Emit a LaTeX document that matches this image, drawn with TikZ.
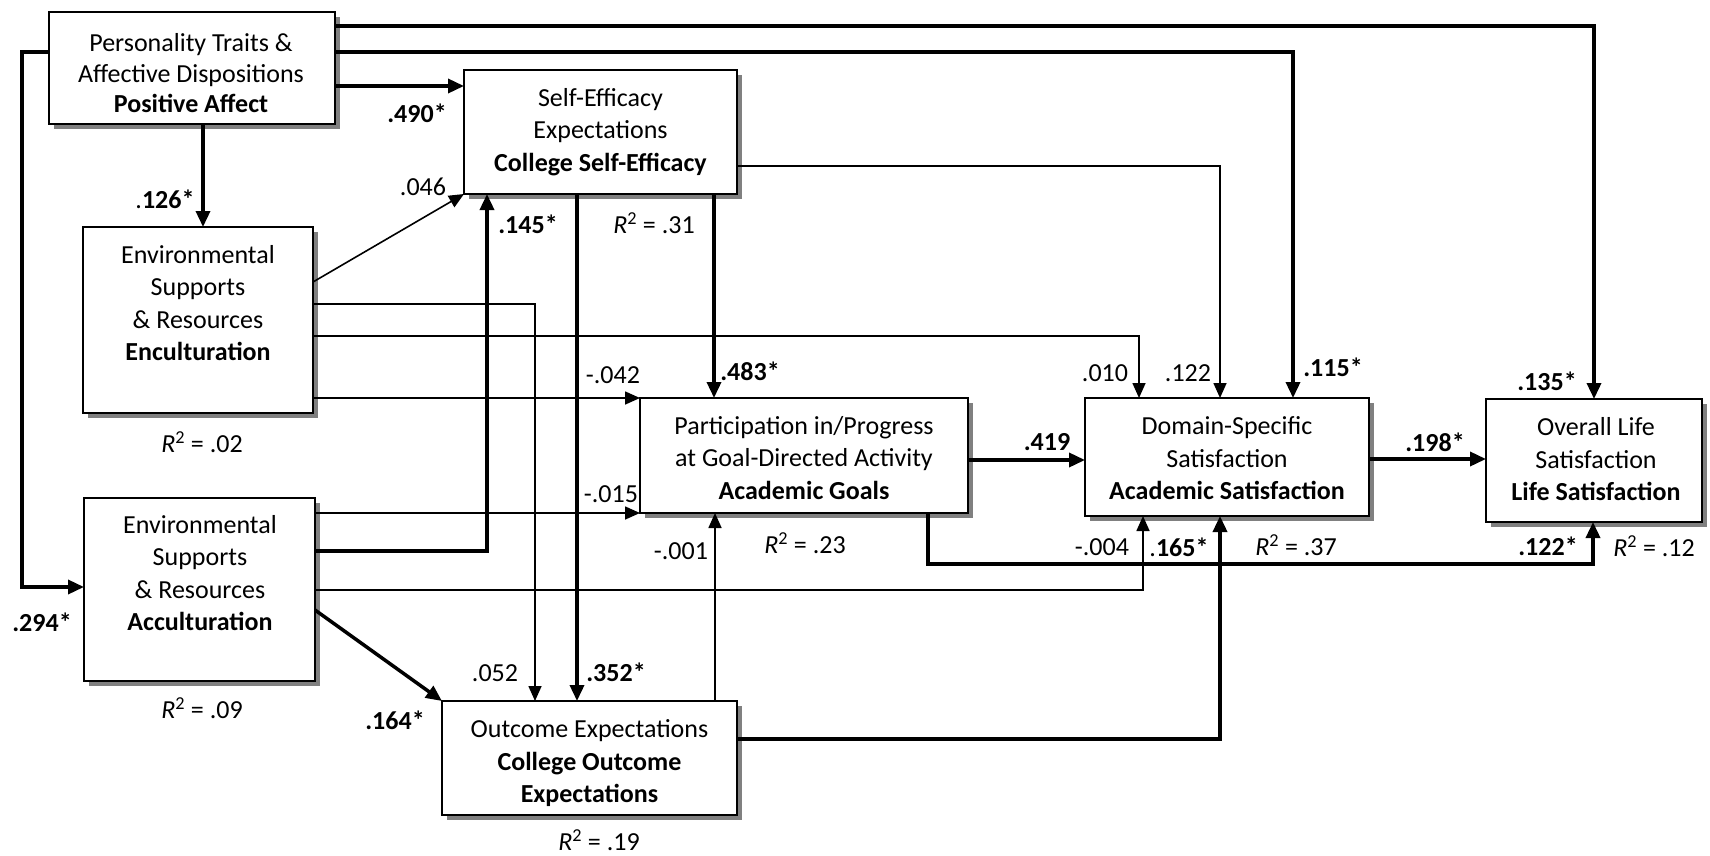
\documentclass[tikz,border=0pt]{standalone}
\usepackage{fontspec}
\setmainfont{Carlito}
\usetikzlibrary{arrows.meta,shadows}
\begin{document}
\begin{tikzpicture}[x=1pt,y=-1pt,
  box/.style={draw, line width=2pt, fill=white, inner sep=0pt, outer sep=0pt,
    general shadow={fill=black!50, shadow xshift=5pt, shadow yshift=-5pt}},
  txt/.style={align=center, inner sep=0pt, font=\fontsize{26}{32.5}\selectfont},
  lab/.style={inner sep=0pt, font=\fontsize{26}{30}\selectfont},
  labb/.style={inner sep=0pt, font=\fontsize{26}{30}\selectfont\bfseries},
  thk/.style={line width=3.5pt, -{Triangle[length=16pt,width=14pt]}},
  thn/.style={line width=1.6pt, -{Triangle[length=15pt,width=13pt]}}
]
\useasboundingbox (0,0) rectangle (1710,856);

% boxes
\node[box, minimum width=286, minimum height=112] (pa) at (192,68) {};
\node[box, minimum width=273, minimum height=124] (se) at (600.5,132) {};
\node[box, minimum width=230, minimum height=186] (en) at (198,320) {};
\node[box, minimum width=231, minimum height=183] (ac) at (199.5,589.5) {};
\node[box, minimum width=328, minimum height=115] (ag) at (804,455.5) {};
\node[box, minimum width=284, minimum height=118] (as) at (1227,457) {};
\node[box, minimum width=216, minimum height=123] (ls) at (1594,460.5) {};
\node[box, minimum width=295, minimum height=114] (oe) at (589.5,758) {};

% box texts
\node[txt, font=\fontsize{26}{30.5}\selectfont] (patx) at (191,76) {\strut Personality Traits \&\\Affective Dispositions\\\textbf{Positive Affect}\strut};
\node[txt] (setx) at (600.5,132) {\strut Self-Efficacy\\Expectations\\\textbf{College Self-Efficacy}\strut};
\node[txt] (entx) at (198,305.5) {\strut Environmental\\Supports\\\& Resources\\\textbf{Enculturation}\strut};
\node[txt] (actx) at (200,575.5) {\strut Environmental\\Supports\\\& Resources\\\textbf{Acculturation}\strut};
\node[txt] (agtx) at (804,460) {\strut Participation in/Progress\\at Goal-Directed Activity\\\textbf{Academic Goals}\strut};
\node[txt] (astx) at (1227,460.5) {\strut Domain-Specific\\Satisfaction\\\textbf{Academic Satisfaction}\strut};
\node[txt] (lstx) at (1596,461.5) {\strut Overall Life\\Satisfaction\\\textbf{Life Satisfaction}\strut};
\node[txt] (oetx) at (589.5,763.5) {\strut Outcome Expectations\\\textbf{College Outcome}\\\textbf{Expectations}\strut};

% connectors from Positive Affect
\draw[thk] (pa.east |- 0,26) -| (ls.north);
\draw[thk] (pa.east |- 0,52) -| (as.north -| 1293,0);
\draw[thk] (pa.east |- 0,86) -- (se.west |- 0,86);
\draw[thk] (pa.south -| 203,0) -- (en.north -| 203,0);
\draw[thk] (pa.west |- 0,52) -- (22,52) |- (ac.west |- 0,587);

% from Enculturation
\draw[thn] (en.east |- 0,282) -- (se.south west);
\draw[thn] (en.east |- 0,304) -| (oe.north -| 535,0);
\draw[thn] (en.east |- 0,336) -| (as.north -| 1139,0);
\draw[thn] (en.east |- 0,398) -- (ag.north west);

% from Acculturation
\draw[thn] (ac.east |- 0,513) -- (ag.south west);
\draw[thk] (ac.east |- 0,551) -| (se.south -| 487,0);
\draw[thn] (ac.east |- 0,590) -| (as.south -| 1143,0);
\draw[thk] (ac.east |- 0,610) -- (oe.north west);

% from Self-Efficacy
\draw[thk] (se.south -| 714,0) -- (ag.north -| 714,0);
\draw[thk] (se.south -| 577,0) -- (oe.north -| 577,0);
\draw[thn] (se.east |- 0,166) -| (as.north -| 1220,0);

% from Academic Goals
\draw[thk] (ag.east |- 0,460) -- (as.west |- 0,460);
\draw[thk] (ag.south -| 928,0) -- (928,564) -| (ls.south -| 1593,0);

% from Outcome Expectations
\draw[thn] (oe.north -| 715,0) -- (ag.south -| 715,0);
\draw[thk] (oe.east |- 0,739) -| (as.south -| 1220,0);

% from Academic Satisfaction
\draw[thk] (as.east |- 0,459) -- (ls.west |- 0,459);

% path labels
\node[labb] (l135) at (1547,381) {.135*};
\node[labb] (l115) at (1333,367) {.115*};
\node[labb] (l490) at (417,113) {.490*};
\node[lab] (l126) at (165,199) {.\textbf{126*}};
\node[labb] (l294) at (42,622) {.294*};
\node[lab] (l046) at (423,187) {.046};
\node[lab] (l052) at (495,673) {.052};
\node[lab] (l010) at (1105,373) {.010};
\node[lab] (l042) at (613,375) {-.042};
\node[lab] (l015) at (611,494) {-.015};
\node[labb] (l145) at (528,224) {.145*};
\node[lab] (l004) at (1102,547) {-.004};
\node[labb] (l164) at (395,720) {.164*};
\node[labb] (l483) at (750,371) {.483*};
\node[labb] (l352) at (616,672) {.352*};
\node[lab] (l122) at (1188,373) {.122};
\node[labb] (l419) at (1047,442) {.419};
\node[labb] (l122s) at (1548,546) {.122*};
\node[lab] (l001) at (681,551) {-.001};
\node[lab] (l165) at (1179,547) {.\textbf{165*}};
\node[labb] (l198) at (1435,442) {.198*};

% R squared
\node[lab] (r31) at (654,223) {\textit{R}\textsuperscript{2} = .31};
\node[lab] (r02) at (202,442) {\textit{R}\textsuperscript{2} = .02};
\node[lab] (r09) at (202,708) {\textit{R}\textsuperscript{2} = .09};
\node[lab] (r23) at (805,543) {\textit{R}\textsuperscript{2} = .23};
\node[lab] (r37) at (1296,545) {\textit{R}\textsuperscript{2} = .37};
\node[lab] (r12) at (1654,546) {\textit{R}\textsuperscript{2} = .12};
\node[lab] (r19) at (599,840) {\textit{R}\textsuperscript{2} = .19};
\end{tikzpicture}
\end{document}
